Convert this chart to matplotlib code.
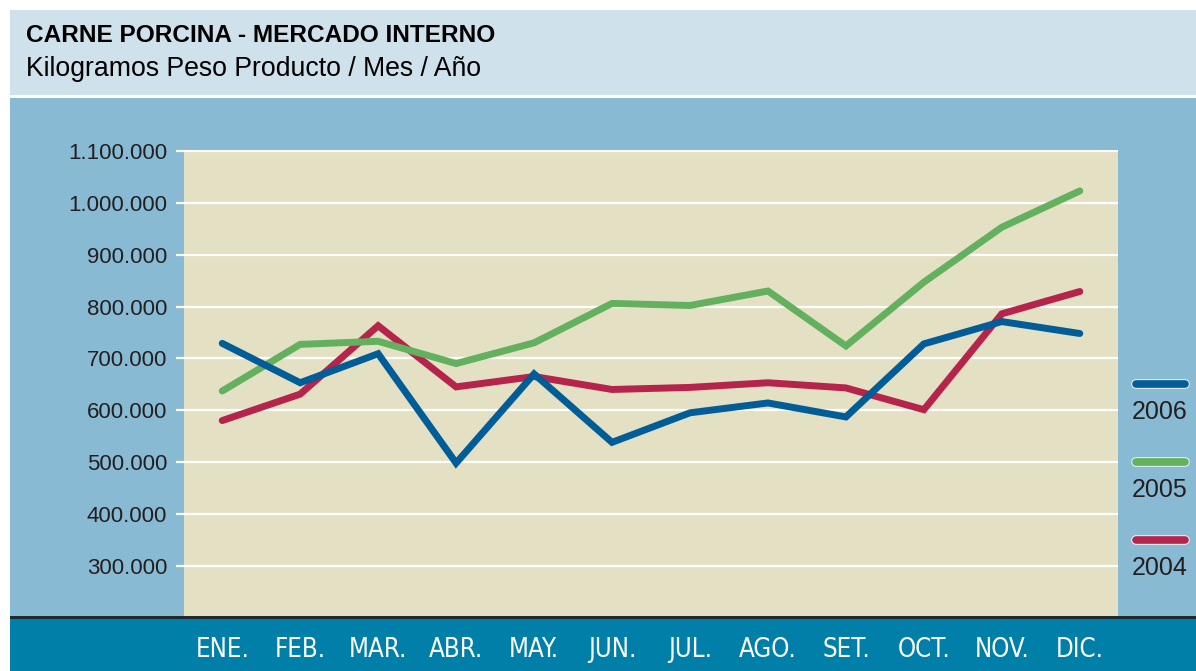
import matplotlib.pyplot as plt
from matplotlib.patches import Rectangle
from matplotlib.lines import Line2D
import matplotlib.patheffects as pe
from matplotlib.ticker import FuncFormatter

# Colours
BAND_LIGHT = '#cfe1ea'
PANEL_BLUE = '#88bad3'
PLOT_BG = '#e4e0c3'
FOOTER = '#0080a8'
FOOTER_EDGE = '#1f2a2e'
TEXT_DARK = '#231f20'
C2006 = '#005d98'
C2005 = '#63b05f'
C2004 = '#b5244b'

months = ['ENE.', 'FEB.', 'MAR.', 'ABR.', 'MAY.', 'JUN.',
          'JUL.', 'AGO.', 'SET.', 'OCT.', 'NOV.', 'DIC.']
kg_2006 = [729000, 653000, 709000, 498000, 670000, 538000,
           595000, 614000, 587000, 728000, 771000, 748000]
kg_2005 = [637000, 727000, 733000, 690000, 730000, 806000,
           802000, 830000, 724000, 847000, 953000, 1023000]
kg_2004 = [580000, 631000, 763000, 645000, 665000, 640000,
           644000, 653000, 643000, 601000, 786000, 829000]
y_ticks = [300000, 400000, 500000, 600000, 700000, 800000, 900000, 1000000, 1100000]

W, H = 1196, 671
fig = plt.figure(figsize=(W / 100, H / 100), dpi=100)
fig.patch.set_facecolor('white')


def fy(px):
    # pixel row from the top -> figure fraction
    return 1 - px / H


def band(x0, y0, x1, y1, color):
    fig.add_artist(Rectangle((x0 / W, fy(y1)), (x1 - x0) / W, (y1 - y0) / H,
                             transform=fig.transFigure, facecolor=color,
                             edgecolor='none', zorder=0))


band(10, 10, W, 95, BAND_LIGHT)
band(10, 98, W, 616, PANEL_BLUE)
band(10, 616, W, 619, FOOTER_EDGE)
band(10, 619, W, H, FOOTER)

fig.text(26 / W, fy(36), 'CARNE PORCINA - MERCADO INTERNO', fontsize=17.6,
         fontweight='bold', color='black', va='center', ha='left',
         family='Liberation Sans')
fig.text(26 / W, fy(69), 'Kilogramos Peso Producto / Mes / Año', fontsize=19.2,
         color='black', va='center', ha='left', family='Liberation Sans')

ax = fig.add_axes([184 / W, fy(616), (1118 - 184) / W, (616 - 150) / H])
ax.set_facecolor(PLOT_BG)
for s in ax.spines.values():
    s.set_visible(False)

x = list(range(len(months)))
for vals, col in [(kg_2004, C2004), (kg_2005, C2005), (kg_2006, C2006)]:
    ax.plot(x, vals, color=col, linewidth=5, solid_capstyle='round',
            solid_joinstyle='miter', zorder=3)

ax.set_xlim(-0.49, 11.49)
ax.set_ylim(203000, 1102000)
ax.set_yticks(y_ticks)
ax.yaxis.set_major_formatter(FuncFormatter(lambda v, p: f'{int(v):,}'.replace(',', '.')))
ax.grid(axis='y', color='white', linewidth=1.6, zorder=1)
ax.set_axisbelow(True)
ax.tick_params(axis='y', direction='out', length=6, width=1.6, color='white',
               pad=6, labelsize=16, labelcolor=TEXT_DARK)
for lab in ax.get_yticklabels():
    lab.set_family('Liberation Sans')

ax.set_xticks(x)
ax.set_xticklabels(months)
ax.tick_params(axis='x', length=0, pad=15, labelsize=18.5, labelcolor='white')
for lab in ax.get_xticklabels():
    lab.set_family('DejaVu Sans')
    lab.set_fontstretch('condensed')

# year keys on the right side
for ly, label, col in [(384, '2006', C2006), (462, '2005', C2005), (540, '2004', C2004)]:
    ln = Line2D([1136 / W, 1185 / W], [fy(ly), fy(ly)], transform=fig.transFigure,
                color=col, linewidth=5.5, solid_capstyle='round', zorder=5)
    ln.set_path_effects([pe.Stroke(linewidth=7, foreground='#e8f0f3'), pe.Normal()])
    fig.add_artist(ln)
    fig.text(1160 / W, fy(412 + (ly - 384)), label, fontsize=18, color=TEXT_DARK,
             ha='center', va='center', family='Liberation Sans')

fig.savefig('out.png', dpi=100, facecolor=fig.get_facecolor())
